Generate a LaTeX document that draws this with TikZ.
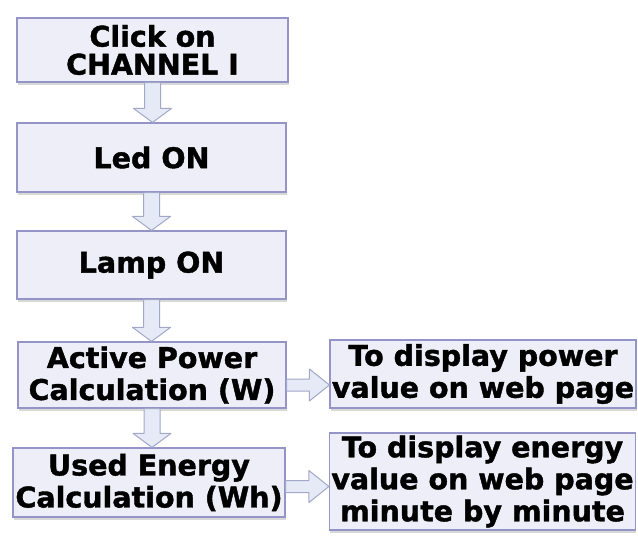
\documentclass[tikz,border=0pt]{standalone}
\usepackage{fontspec}
\setmainfont{DejaVu Sans}[BoldFeatures={FakeBold=1.4}]
\usetikzlibrary{calc,shadows}
\definecolor{boxfill}{HTML}{EEEEF8}
\definecolor{boxline}{HTML}{9494C6}
\definecolor{arrfill}{HTML}{E6EAF6}
\definecolor{arrline}{HTML}{A2A8C8}
\tikzset{
  stepbox/.style={draw=boxline, line width=1.2pt, fill=boxfill, align=center,
    inner sep=0pt, font=\fontsize{28.5}{32}\selectfont\bfseries,
    drop shadow={shadow xshift=0.5pt, shadow yshift=-2.5pt, opacity=0.25, fill=black!60}},
  blockarrow/.style={draw=arrline, line width=1pt, fill=arrfill, line join=round},
}
% hollow block arrow pointing down, from the bottom of #1 to the top of #2
\newcommand\flowdown[2]{%
  \path[blockarrow] let \p1=(#1.south), \p2=(#2.north) in
    ({\x1-8pt},\y1) -- ({\x1-8pt},{\y2+14pt}) -- ({\x1-19pt},{\y2+14pt}) -- (\x1,\y2)
    -- ({\x1+19pt},{\y2+14pt}) -- ({\x1+8pt},{\y2+14pt}) -- ({\x1+8pt},\y1) -- cycle;}
% hollow block arrow pointing right, from #1 to #2, shifted down by #3
\newcommand\flowright[3]{%
  \path[blockarrow] let \p1=(#1.east), \p2=(#2.west) in
    (\x1,{\y1-#3+6pt}) -- ({\x2-20pt},{\y1-#3+6pt}) -- ({\x2-20pt},{\y1-#3+16pt}) -- (\x2,{\y1-#3})
    -- ({\x2-20pt},{\y1-#3-16pt}) -- ({\x2-20pt},{\y1-#3-6pt}) -- (\x1,{\y1-#3-6pt}) -- cycle;}
\begin{document}
\begin{tikzpicture}[x=1pt,y=-1pt]
  \useasboundingbox (0,0) rectangle (638,539);
  \fill[white] (0,0) rectangle (638,539);

  \node[stepbox, minimum width=271pt, minimum height=64pt] (click) at (152.5,50) {Click on\\[-4pt]CHANNEL I};
  \node[stepbox, minimum width=269pt, minimum height=69pt] (led) at (151.5,157.5) {Led ON};
  \node[stepbox, minimum width=269pt, minimum height=68pt] (lamp) at (151.5,265) {Lamp ON};
  \node[stepbox, minimum width=268pt, minimum height=66pt] (power) at (152,375) {Active Power\\Calculation (W)};
  \node[stepbox, minimum width=272pt, minimum height=69pt] (energy) at (149,482.5) {Used Energy\\Calculation (Wh)};
  \node[stepbox, minimum width=306pt, minimum height=68pt] (showpower) at (483,374) {To display power\\value on web page};
  \node[stepbox, minimum width=306pt, minimum height=97pt] (showenergy) at (482.5,481.5) {To display energy\\value on web page\\minute by minute};

  \flowdown{click}{led}
  \flowdown{led}{lamp}
  \flowdown{lamp}{power}
  \flowdown{power}{energy}
  \flowright{power}{showpower}{10pt}
  \flowright{energy}{showenergy}{4pt}
\end{tikzpicture}
\end{document}
